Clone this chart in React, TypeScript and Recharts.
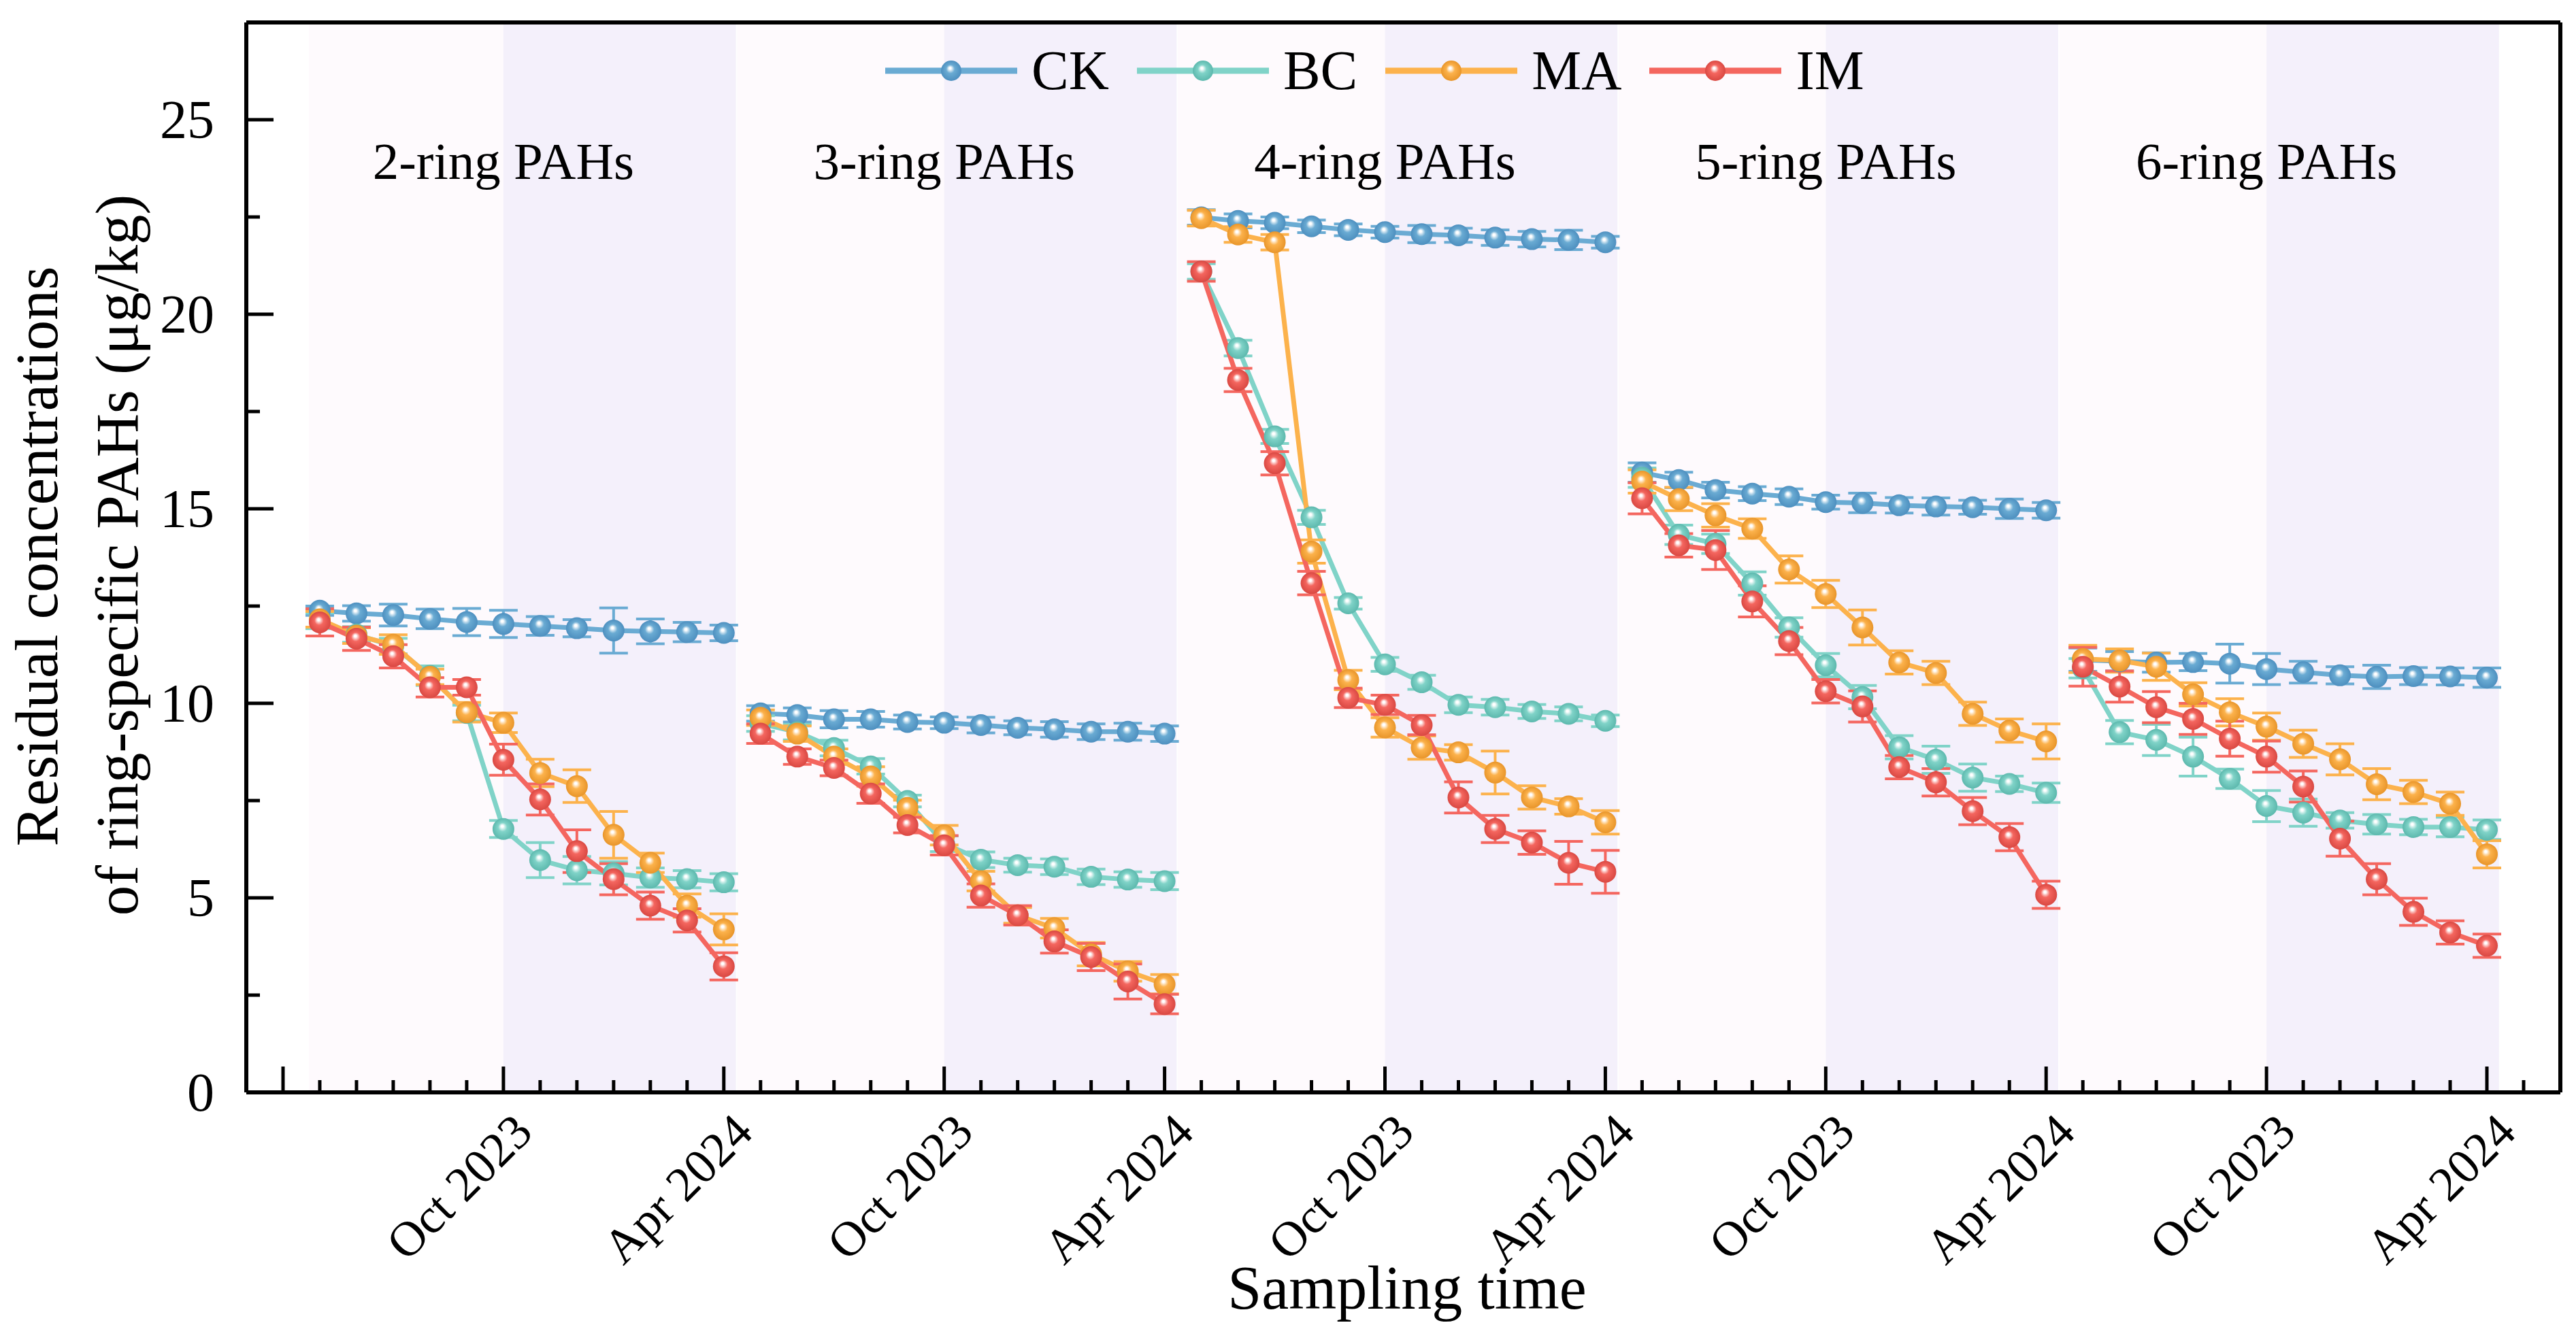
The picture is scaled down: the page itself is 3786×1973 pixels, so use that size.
import React from 'react';
import { LineChart, Line, XAxis, YAxis, ErrorBar, ReferenceArea, ReferenceLine } from 'recharts';

const PANELS = ['2-ring PAHs', '3-ring PAHs', '4-ring PAHs', '5-ring PAHs', '6-ring PAHs'];
const SAMPLING_MONTHS = [
  'May 2023', 'Jun 2023', 'Jul 2023', 'Aug 2023', 'Sep 2023', 'Oct 2023',
  'Nov 2023', 'Dec 2023', 'Jan 2024', 'Feb 2024', 'Mar 2024', 'Apr 2024',
];
const Y_TICKS = [0, 2.5, 5, 7.5, 10, 12.5, 15, 17.5, 20, 22.5, 25];

// one row of 12 months per panel (2-ring ... 6-ring)
const CK = [
  12.38, 12.31, 12.27, 12.17, 12.09, 12.04, 11.99, 11.93, 11.87, 11.85, 11.83, 11.81,
  9.74, 9.7, 9.59, 9.59, 9.52, 9.5, 9.44, 9.37, 9.33, 9.27, 9.27, 9.22,
  22.49, 22.4, 22.35, 22.26, 22.17, 22.11, 22.06, 22.03, 21.97, 21.93, 21.91, 21.85,
  15.93, 15.74, 15.48, 15.39, 15.31, 15.17, 15.15, 15.09, 15.06, 15.04, 15.0, 14.96,
  11.12, 11.08, 11.05, 11.06, 11.02, 10.88, 10.8, 10.72, 10.68, 10.7, 10.69, 10.66,
];
const CK_ERR = [
  0.12, 0.2, 0.28, 0.25, 0.35, 0.35, 0.24, 0.22, 0.58, 0.32, 0.25, 0.2,
  0.2, 0.18, 0.22, 0.2, 0.18, 0.15, 0.2, 0.18, 0.2, 0.2, 0.22, 0.2,
  0.2, 0.18, 0.15, 0.16, 0.15, 0.15, 0.22, 0.18, 0.2, 0.2, 0.25, 0.15,
  0.25, 0.2, 0.2, 0.18, 0.2, 0.18, 0.25, 0.2, 0.22, 0.18, 0.25, 0.2,
  0.3, 0.25, 0.25, 0.22, 0.5, 0.4, 0.28, 0.22, 0.3, 0.22, 0.22, 0.25,
];
const BC = [
  12.12, 11.77, 11.47, 10.71, 9.75, 6.77, 5.97, 5.71, 5.63, 5.52, 5.48, 5.4,
  9.48, 9.26, 8.85, 8.38, 7.49, 6.39, 5.98, 5.84, 5.8, 5.54, 5.47, 5.43,
  21.1, 19.13, 16.86, 14.78, 12.57, 11.0, 10.54, 9.96, 9.9, 9.79, 9.73, 9.55,
  15.8, 14.33, 14.1, 13.08, 11.95, 10.98, 10.16, 8.87, 8.55, 8.09, 7.93, 7.7,
  10.9, 9.26, 9.06, 8.63, 8.06, 7.36, 7.19, 6.99, 6.89, 6.82, 6.82, 6.75,
];
const BC_ERR = [
  0.2, 0.2, 0.2, 0.25, 0.2, 0.22, 0.45, 0.35, 0.3, 0.25, 0.22, 0.22,
  0.2, 0.2, 0.2, 0.2, 0.15, 0.2, 0.2, 0.18, 0.2, 0.2, 0.2, 0.22,
  0.2, 0.2, 0.18, 0.18, 0.15, 0.18, 0.18, 0.2, 0.2, 0.18, 0.18, 0.15,
  0.25, 0.25, 0.25, 0.3, 0.25, 0.3, 0.3, 0.3, 0.35, 0.35, 0.2, 0.25,
  0.25, 0.3, 0.4, 0.5, 0.25, 0.4, 0.35, 0.2, 0.25, 0.2, 0.25, 0.25,
];
const MA = [
  12.16, 11.74, 11.51, 10.68, 9.77, 9.5, 8.21, 7.87, 6.62, 5.9, 4.8, 4.19,
  9.63, 9.22, 8.63, 8.12, 7.31, 6.61, 5.43, 4.55, 4.22, 3.55, 3.11, 2.78,
  22.47, 22.05, 21.85, 13.9, 10.6, 9.38, 8.86, 8.74, 8.22, 7.58, 7.35, 6.94,
  15.7, 15.25, 14.83, 14.49, 13.44, 12.81, 11.95, 11.05, 10.78, 9.73, 9.3, 9.02,
  11.14, 11.1, 10.94, 10.23, 9.77, 9.4, 8.96, 8.56, 7.92, 7.72, 7.42, 6.12,
];
const MA_ERR = [
  0.2, 0.2, 0.25, 0.2, 0.25, 0.25, 0.35, 0.42, 0.6, 0.25, 0.3, 0.4,
  0.2, 0.2, 0.2, 0.25, 0.2, 0.25, 0.25, 0.2, 0.25, 0.3, 0.25, 0.25,
  0.2, 0.2, 0.2, 0.3, 0.25, 0.25, 0.3, 0.2, 0.55, 0.3, 0.2, 0.3,
  0.3, 0.3, 0.3, 0.25, 0.35, 0.35, 0.45, 0.3, 0.3, 0.3, 0.3, 0.45,
  0.35, 0.3, 0.35, 0.3, 0.35, 0.35, 0.35, 0.4, 0.4, 0.3, 0.3, 0.35,
];
const IM = [
  12.08, 11.66, 11.21, 10.41, 10.41, 8.55, 7.53, 6.2, 5.48, 4.8, 4.42, 3.24,
  9.22, 8.63, 8.34, 7.68, 6.87, 6.35, 5.06, 4.55, 3.88, 3.48, 2.85, 2.27,
  21.1, 18.31, 16.17, 13.09, 10.14, 9.96, 9.44, 7.58, 6.77, 6.42, 5.9, 5.67,
  15.27, 14.06, 13.94, 12.62, 11.6, 10.31, 9.92, 8.36, 7.97, 7.23, 6.56, 5.08,
  10.94, 10.43, 9.9, 9.6, 9.09, 8.63, 7.86, 6.52, 5.48, 4.64, 4.11, 3.77,
];
const IM_ERR = [
  0.35, 0.3, 0.3, 0.25, 0.2, 0.4, 0.4, 0.55, 0.4, 0.35, 0.3, 0.35,
  0.25, 0.2, 0.2, 0.25, 0.2, 0.25, 0.3, 0.25, 0.3, 0.35, 0.45, 0.25,
  0.25, 0.3, 0.3, 0.3, 0.25, 0.25, 0.25, 0.4, 0.35, 0.3, 0.55, 0.55,
  0.4, 0.3, 0.5, 0.4, 0.35, 0.3, 0.4, 0.3, 0.35, 0.35, 0.35, 0.35,
  0.5, 0.4, 0.4, 0.4, 0.45, 0.4, 0.4, 0.45, 0.4, 0.35, 0.3, 0.3,
];

const SERIES = [
  { key: 'CK', color: '#6aabd3', dark: '#4d8fbf', values: CK, errors: CK_ERR },
  { key: 'BC', color: '#80d3c8', dark: '#5cb8ad', values: BC, errors: BC_ERR },
  { key: 'MA', color: '#fcb24c', dark: '#e8952a', values: MA, errors: MA_ERR },
  { key: 'IM', color: '#f4665f', dark: '#d94842', values: IM, errors: IM_ERR },
];

const W = 3786;
const H = 1973;
const PLOT_LEFT = 362;
const PLOT_BOTTOM = 1606;
const FONT = "'Liberation Serif', 'Times New Roman', serif";

// x is a running month index; each panel covers 12 months, gap rows break the lines
const data: Record<string, number | null>[] = [];
PANELS.forEach((_, p) => {
  SAMPLING_MONTHS.forEach((_, m) => {
    const i = p * 12 + m;
    const row: Record<string, number | null> = { x: i + 1 };
    SERIES.forEach((s) => {
      row[s.key] = s.values[i];
      row[s.key + 'err'] = s.errors[i];
    });
    data.push(row);
  });
  if (p < PANELS.length - 1) {
    const gap: Record<string, number | null> = { x: p * 12 + 12.5 };
    SERIES.forEach((s) => {
      gap[s.key] = null;
      gap[s.key + 'err'] = null;
    });
    data.push(gap);
  }
});

const xTicks = Array.from({ length: 62 }, (_, i) => i);

const XTick = (props: any) => {
  const { x, payload } = props;
  const v = payload.value as number;
  const major = v % 6 === 0;
  const label = major && v > 0 ? SAMPLING_MONTHS[(v - 1) % 12] : null;
  const lx = x + 46;
  const ly = PLOT_BOTTOM + 62;
  return (
    <g>
      <line x1={x} x2={x} y1={PLOT_BOTTOM} y2={PLOT_BOTTOM - (major ? 38 : 18)} stroke="#000" strokeWidth={5} />
      {label && (
        <text x={lx} y={ly} textAnchor="end" transform={`rotate(-45 ${lx} ${ly})`}
          fontSize={72} fontFamily={FONT} fill="#000">
          {label}
        </text>
      )}
    </g>
  );
};

const YTick = (props: any) => {
  const { y, payload } = props;
  const v = payload.value as number;
  const major = v % 5 === 0;
  return (
    <g>
      <line x1={PLOT_LEFT} x2={PLOT_LEFT + (major ? 40 : 20)} y1={y} y2={y} stroke="#000" strokeWidth={5} />
      {major && (
        <text x={315} y={y} dy={27} textAnchor="end" fontSize={80} fontFamily={FONT} fill="#000">
          {v}
        </text>
      )}
    </g>
  );
};

const makeDot = (id: string) => (props: any) => {
  const { cx, cy, index } = props;
  if (cx == null || cy == null || Number.isNaN(cy)) return <g key={`${id}-${index}`} />;
  return <circle key={`${id}-${index}`} cx={cx} cy={cy} r={16} fill={`url(#ball-${id})`} />;
};

const yTitle = () => (
  <g fontFamily={FONT} fontSize={89} fill="#000">
    <text x={84} y={818} textAnchor="middle" transform="rotate(-90 84 818)">Residual concentrations</text>
    <text x={202} y={816} textAnchor="middle" transform="rotate(-90 202 816)">of ring-specific PAHs (μg/kg)</text>
  </g>
);

const xTitle = () => (
  <text x={2068} y={1924} textAnchor="middle" fontFamily={FONT} fontSize={90} fill="#000">
    Sampling time
  </text>
);

const panelTitle = (name: string) => (props: any) => (
  <text x={props.viewBox.x} y={263} textAnchor="middle" fontFamily={FONT} fontSize={77} fill="#000">
    {name}
  </text>
);

const ballStops = (s: { color: string; dark: string }) => [
  <stop key="a" offset="0%" stopColor="#ffffff" />,
  <stop key="b" offset="10%" stopColor="#ffffff" />,
  <stop key="c" offset="42%" stopColor={s.color} />,
  <stop key="d" offset="100%" stopColor={s.dark} />,
];

const Legend = () => (
  <div style={{ position: 'absolute', left: 1301, top: 54, height: 100, display: 'flex', alignItems: 'center', fontFamily: FONT }}>
    {SERIES.map((s) => (
      <div key={s.key} style={{ display: 'flex', alignItems: 'center', marginRight: 41 }}>
        <svg width={194} height={40}>
          <defs>
            <radialGradient id={`leg-${s.key}`} cx="50%" cy="50%" r="50%" fx="44%" fy="36%">
              {ballStops(s)}
            </radialGradient>
          </defs>
          <line x1={0} x2={194} y1={20} y2={20} stroke={s.color} strokeWidth={9} />
          <circle cx={97} cy={20} r={15} fill={`url(#leg-${s.key})`} />
        </svg>
        <span style={{ fontSize: 82, lineHeight: 1, marginLeft: 21, color: '#000' }}>{s.key}</span>
      </div>
    ))}
  </div>
);

export default function App() {
  return (
    <div style={{ position: 'fixed', left: 0, top: 0, width: W, height: H, background: '#fff', fontFamily: FONT }}>
      <LineChart width={W} height={H} data={data} margin={{ top: 33, right: 23, left: 0, bottom: 0 }}>
        <defs>
          {SERIES.map((s) => (
            <radialGradient key={s.key} id={`ball-${s.key}`} cx="50%" cy="50%" r="50%" fx="44%" fy="36%">
              {ballStops(s)}
            </radialGradient>
          ))}
        </defs>
        {PANELS.map((name, p) => (
          <ReferenceArea key={`l-${name}`} x1={p === 0 ? 0.7 : p * 12 + 0.36} x2={p * 12 + 6}
            fill="#fefafd" fillOpacity={1} stroke="none" />
        ))}
        {PANELS.map((name, p) => (
          <ReferenceArea key={`d-${name}`} x1={p * 12 + 6} x2={p * 12 + 12.33}
            fill="#f4f0fb" fillOpacity={1} stroke="none" />
        ))}
        {PANELS.map((name, p) => (
          <ReferenceLine key={`t-${name}`} x={p * 12 + 6} stroke="none" label={panelTitle(name)} />
        ))}
        <XAxis
          dataKey="x"
          type="number"
          domain={[-1, 62]}
          ticks={xTicks}
          interval={0}
          height={367}
          tick={XTick}
          tickLine={false}
          axisLine={{ stroke: '#000', strokeWidth: 6 }}
          label={xTitle}
        />
        <YAxis
          type="number"
          domain={[0, 27.5]}
          ticks={Y_TICKS}
          interval={0}
          width={362}
          tick={YTick}
          tickLine={false}
          axisLine={{ stroke: '#000', strokeWidth: 6 }}
          label={yTitle}
        />
        <ReferenceLine y={27.5} stroke="#000" strokeWidth={6} />
        <ReferenceLine x={62} stroke="#000" strokeWidth={6} />
        {SERIES.map((s) => (
          <Line
            key={s.key}
            dataKey={s.key}
            stroke={s.color}
            strokeWidth={7}
            dot={makeDot(s.key)}
            activeDot={false}
            isAnimationActive={false}
            connectNulls={false}
          >
            <ErrorBar dataKey={s.key + 'err'} direction="y" width={21} stroke={s.color} strokeWidth={4} />
          </Line>
        ))}
      </LineChart>
      <Legend />
    </div>
  );
}
